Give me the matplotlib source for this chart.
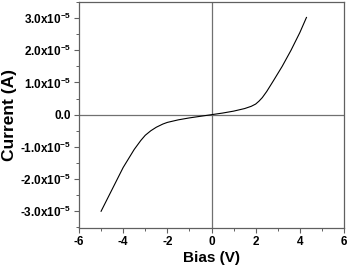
import matplotlib
matplotlib.use('Agg')
import matplotlib.pyplot as plt
from matplotlib.ticker import MultipleLocator, FuncFormatter
import numpy as np

plt.rcParams['font.family'] = 'Liberation Sans'
plt.rcParams['font.weight'] = 'bold'
plt.rcParams['mathtext.fontset'] = 'custom'
plt.rcParams['mathtext.rm'] = 'Liberation Sans:bold'
plt.rcParams['mathtext.bf'] = 'Liberation Sans:bold'

# I-V Kennlinie
bias = [-5.0, -4.5, -4.0, -3.5, -3.2, -3.0, -2.75, -2.5, -2.2, -2.0, -1.5, -1.0, -0.5, 0.0,
        0.5, 1.0, 1.5, 1.8, 2.0, 2.15, 2.3, 2.5, 2.8, 3.2, 3.6, 4.0, 4.3]
current = [-3.0, -2.32, -1.64, -1.08, -0.8, -0.64, -0.5, -0.39, -0.29, -0.24, -0.16, -0.1, -0.05, 0.0,
           0.05, 0.11, 0.19, 0.26, 0.33, 0.42, 0.53, 0.72, 1.05, 1.5, 2.0, 2.55, 3.02]
current = [c * 1e-5 for c in current]

fig = plt.figure(figsize=(3.48, 2.69), dpi=100)
ax = fig.add_axes([79/348, 1 - 228/269, (344-79)/348, (228-2)/269])

ax.axhline(0, color='#707070', lw=0.9, zorder=1)
ax.axvline(0, color='#707070', lw=0.9, zorder=1)
ax.plot(bias, current, color='black', lw=0.8, zorder=3)

ax.set_xlim(-6, 6)
ax.set_ylim(-3.52e-5, 3.5e-5)
ax.xaxis.set_major_locator(MultipleLocator(2))
ax.xaxis.set_minor_locator(MultipleLocator(1))
ax.yaxis.set_major_locator(MultipleLocator(1e-5))
ax.yaxis.set_minor_locator(MultipleLocator(0.5e-5))


def yfmt(v, pos):
    m = round(v / 1e-5, 1)
    if m == 0:
        return '0.0'
    return '%.1fx10$^{-5}$' % m


ax.yaxis.set_major_formatter(FuncFormatter(yfmt))
ax.xaxis.set_major_formatter(FuncFormatter(lambda v, p: '%d' % v))

for s in ax.spines.values():
    s.set_color('#606060')
    s.set_linewidth(0.9)
ax.tick_params(which='major', direction='out', length=3.5, width=0.8, color='#606060',
               labelsize=8.5, pad=2)
ax.tick_params(which='minor', direction='out', length=2, width=0.7, color='#606060')

ax.set_xlabel('Bias (V)', fontsize=11, fontweight='bold')
ax.set_ylabel('Current (A)', fontsize=12.5, fontweight='bold')
ax.xaxis.set_label_coords(0.5, -0.10)
ax.yaxis.set_label_coords(-0.235, 0.5)

fig.savefig('out.png', dpi=100)
